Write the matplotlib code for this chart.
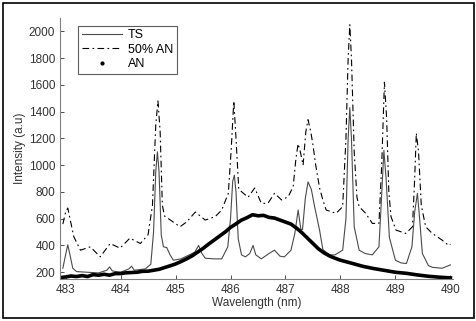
import matplotlib
matplotlib.use("Agg")
import matplotlib.pyplot as plt
from matplotlib.lines import Line2D
from matplotlib.patches import Rectangle

plt.rcParams['font.family'] = ['Liberation Sans', 'DejaVu Sans']

# TS spectrum
ts_x = [482.95, 483.0, 483.04, 483.08, 483.13, 483.2, 483.4, 483.6, 483.75, 483.8,
        483.85, 484.0, 484.15, 484.2, 484.25, 484.45, 484.55, 484.6, 484.64, 484.67,
        484.7, 484.74, 484.78, 484.84, 484.9, 484.96, 485.1, 485.25, 485.35, 485.42,
        485.48, 485.54, 485.7, 485.84, 485.95, 486.0, 486.04, 486.07, 486.1, 486.14,
        486.2, 486.27, 486.35, 486.41, 486.46, 486.56, 486.7, 486.8, 486.9, 486.98,
        487.1, 487.17, 487.23, 487.28, 487.31, 487.36, 487.41, 487.47, 487.53, 487.62,
        487.68, 487.8, 487.9, 488.04, 488.1, 488.14, 488.17, 488.2, 488.25, 488.34,
        488.45, 488.58, 488.7, 488.74, 488.79, 488.83, 488.89, 489.0, 489.1, 489.2,
        489.3, 489.35, 489.4, 489.44, 489.49, 489.6, 489.67, 489.85, 490.0]
ts_y = [230, 330, 405, 330, 230, 205, 200, 195, 215, 240,
        210, 200, 225, 245, 215, 225, 260, 500, 950, 1100,
        950, 480, 390, 385, 330, 290, 300, 330, 350, 400,
        340, 305, 300, 300, 390, 600, 880, 925, 800, 450,
        330, 315, 340, 400, 330, 300, 340, 365, 320, 315,
        365, 490, 665, 520, 520, 750, 875, 820, 690, 515,
        370, 330, 330, 365, 600, 1200, 1430, 1200, 540, 365,
        340, 330, 390, 700, 1110, 900, 460, 290, 270, 265,
        390, 650, 790, 600, 340, 250, 237, 230, 255]

# 50% AN spectrum
mix_x = [482.95, 483.0, 483.04, 483.08, 483.15, 483.27, 483.45, 483.63, 483.81, 483.99,
         484.17, 484.36, 484.5, 484.58, 484.64, 484.68, 484.72, 484.76, 484.8, 484.96,
         485.08, 485.2, 485.36, 485.54, 485.72, 485.84, 485.96, 486.01, 486.06, 486.1,
         486.15, 486.32, 486.44, 486.56, 486.68, 486.8, 486.93, 487.05, 487.14, 487.19,
         487.23, 487.27, 487.32, 487.37, 487.41, 487.46, 487.5, 487.55, 487.62, 487.68,
         487.74, 487.92, 488.04, 488.1, 488.14, 488.17, 488.2, 488.25, 488.3, 488.34,
         488.46, 488.58, 488.7, 488.75, 488.8, 488.84, 488.88, 488.92, 489.01, 489.19,
         489.31, 489.35, 489.38, 489.42, 489.47, 489.55, 489.67, 489.85, 489.97, 490.0]
mix_y = [560, 650, 680, 600, 465, 365, 390, 315, 415, 380,
         455, 415, 480, 700, 1300, 1480, 1250, 700, 620, 575,
         540, 575, 650, 590, 615, 665, 790, 1100, 1480, 1200,
         820, 760, 830, 715, 715, 790, 740, 765, 840, 1050,
         1160, 1100, 1000, 1250, 1340, 1250, 1150, 1000, 830, 740,
         665, 640, 690, 1200, 1800, 2050, 1800, 1100, 760, 690,
         640, 565, 565, 1000, 1620, 1350, 800, 615, 515, 490,
         540, 900, 1240, 1100, 700, 540, 490, 440, 400, 410]

# AN spectrum (thick, slightly noisy)
an_x = [482.9, 483.0, 483.1, 483.2, 483.3, 483.4, 483.5, 483.6, 483.7, 483.8,
        483.9, 484.0, 484.1, 484.2, 484.3, 484.4, 484.5, 484.6, 484.7, 484.8,
        484.9, 485.0, 485.1, 485.2, 485.3, 485.4, 485.5, 485.6, 485.7, 485.8,
        485.9, 486.0, 486.1, 486.2, 486.3, 486.4, 486.5, 486.6, 486.7, 486.8,
        486.9, 487.0, 487.1, 487.2, 487.3, 487.4, 487.5, 487.6, 487.7, 487.8,
        487.9, 488.0, 488.2, 488.4, 488.6, 488.8, 489.0, 489.2, 489.4, 489.6,
        489.8, 490.0]
an_y = [160, 165, 172, 168, 175, 168, 182, 178, 185, 178,
        190, 190, 196, 198, 200, 207, 208, 215, 222, 235,
        248, 262, 280, 300, 322, 350, 378, 410, 440, 470,
        500, 535, 562, 590, 608, 630, 622, 625, 610, 605,
        590, 575, 560, 530, 495, 455, 415, 375, 345, 322,
        305, 290, 268, 245, 228, 214, 200, 192, 180, 170,
        163, 158]

x_ticks = [483, 484, 485, 486, 487, 488, 489, 490]
y_ticks = [200, 400, 600, 800, 1000, 1200, 1400, 1600, 1800, 2000]

fig = plt.figure(figsize=(4.77, 3.21), dpi=100)
ax = fig.add_axes([0.126, 0.131, 0.824, 0.813])

ax.plot(ts_x, ts_y, color='#4a4a4a', lw=0.8)
ax.plot(mix_x, mix_y, color='black', lw=0.8, dashes=(6, 3, 1.5, 3))
ax.plot(an_x, an_y, color='black', lw=2.6)

ax.set_xlim(482.9, 490.05)
ax.set_ylim(150, 2100)
ax.set_xticks(x_ticks)
ax.set_yticks(y_ticks)
ax.tick_params(direction='in', length=3, labelsize=8.5, colors='#333333', width=0.6)
for s in ['top', 'right']:
    ax.spines[s].set_visible(False)
for s in ['left', 'bottom']:
    ax.spines[s].set_color('#808080')
    ax.spines[s].set_linewidth(0.8)

ax.set_xlabel('Wavelength (nm)', fontsize=8.5, color='#333333', labelpad=1)
ax.set_ylabel('Intensity (a.u)', fontsize=8.5, color='#333333', labelpad=2)

handles = [Line2D([], [], color='#4a4a4a', lw=0.8),
           Line2D([], [], color='black', lw=0.8, dashes=(6, 3, 1.5, 3)),
           Line2D([], [], color='black', ls='none', marker='.', ms=4)]
leg = ax.legend(handles, ['TS', '50% AN', 'AN'], loc='upper left',
                bbox_to_anchor=(0.03, 0.995), fontsize=9, frameon=True,
                fancybox=False, edgecolor='#333333', handlelength=3.2,
                borderpad=0.3, labelspacing=0.2, handletextpad=0.5)
leg.get_frame().set_linewidth(0.8)

fig.patches.append(Rectangle((3 / 477, 3 / 321), 471 / 477, 315 / 321,
                             transform=fig.transFigure, fill=False,
                             edgecolor='black', lw=1.2))

fig.savefig('out.png', dpi=100)
